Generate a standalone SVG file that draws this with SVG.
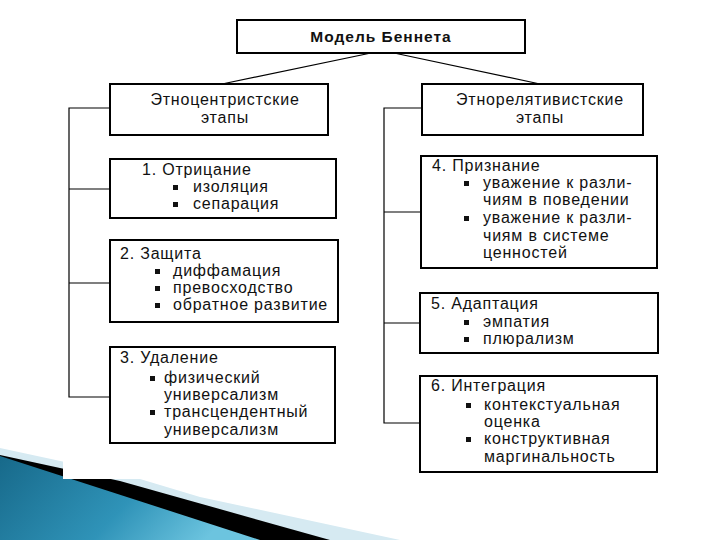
<svg xmlns="http://www.w3.org/2000/svg" width="720" height="540" viewBox="0 0 720 540">
<defs>
<linearGradient id="teal" x1="0" y1="0" x2="1" y2="0.3">
<stop offset="0" stop-color="#17698a"/>
<stop offset="0.6" stop-color="#2f93b8"/>
<stop offset="1" stop-color="#6cc4df"/>
</linearGradient>
<style>
.box{fill:#fff;stroke:#000;stroke-width:2}
.con{fill:none;stroke:#000;stroke-width:1.2}
text{font-family:"Liberation Sans",Arial,sans-serif;font-size:16px;letter-spacing:0.8px;fill:#111}
.title{font-weight:bold;font-size:15.5px;letter-spacing:1px}
.c{text-anchor:middle}
.b{fill:#111}
</style>
</defs>
<rect width="720" height="540" fill="#fff"/>
<g id="decoration">
<polygon points="0,448 130,476 200,497 400,540 0,540" fill="#d6eaf2"/>
<polygon points="0,455 120,481 330,540 0,540" fill="#000"/>
<polygon points="0,456 260,540 0,540" fill="url(#teal)"/>
<rect x="63" y="0" width="600" height="479" fill="#fff"/>
</g>
<g id="connectors">
<line class="con" x1="371" y1="53" x2="222" y2="84"/>
<line class="con" x1="394" y1="53" x2="540" y2="84"/>
<polyline class="con" points="110,108 69,108 69,397 110,397"/>
<line class="con" x1="69" y1="189" x2="110" y2="189"/>
<line class="con" x1="69" y1="283" x2="110" y2="283"/>
<polyline class="con" points="422,108 384,108 384,423 420,423"/>
<line class="con" x1="384" y1="212" x2="421" y2="212"/>
<line class="con" x1="384" y1="323" x2="420" y2="323"/>
</g>
<g id="title">
<rect class="box" x="237" y="20" width="288" height="33"/>
<text class="title c" x="381" y="42">Модель Беннета</text>
</g>
<g id="ethnocentric">
<rect class="box" x="110" y="84" width="218" height="51"/>
<text class="c" x="225" y="105">Этноцентристские</text>
<text class="c" x="225" y="123">этапы</text>
</g>
<g id="ethnorelative">
<rect class="box" x="422" y="84" width="221" height="51"/>
<text class="c" x="540" y="105">Этнорелятивистские</text>
<text class="c" x="540" y="123">этапы</text>
</g>
<g id="stage1">
<rect class="box" x="110" y="159" width="226" height="59"/>
<text x="142" y="175">1. Отрицание</text>
<rect class="b" x="173" y="185" width="5" height="5"/>
<text x="193" y="192">изоляция</text>
<rect class="b" x="173" y="202" width="5" height="5"/>
<text x="193" y="209">сепарация</text>
</g>
<g id="stage2">
<rect class="box" x="110" y="240" width="228" height="82"/>
<text x="120" y="259">2. Защита</text>
<rect class="b" x="155" y="269" width="5" height="5"/>
<text x="173" y="276">диффамация</text>
<rect class="b" x="155" y="286" width="5" height="5"/>
<text x="173" y="293">превосходство</text>
<rect class="b" x="155" y="303" width="5" height="5"/>
<text x="173" y="310">обратное развитие</text>
</g>
<g id="stage3">
<rect class="box" x="110" y="347" width="225" height="96"/>
<text x="120" y="363">3. Удаление</text>
<rect class="b" x="150" y="376" width="5" height="5"/>
<text x="164" y="383">физический</text>
<text x="164" y="400">универсализм</text>
<rect class="b" x="150" y="410" width="5" height="5"/>
<text x="164" y="417">трансцендентный</text>
<text x="164" y="435">универсализм</text>
</g>
<g id="stage4">
<rect class="box" x="421" y="156" width="236" height="112"/>
<text x="432" y="171">4. Признание</text>
<rect class="b" x="464" y="181" width="5" height="5"/>
<text x="483" y="188">уважение к разли-</text>
<text x="483" y="205">чиям в поведении</text>
<rect class="b" x="464" y="216" width="5" height="5"/>
<text x="483" y="223">уважение к разли-</text>
<text x="483" y="241">чиям в системе</text>
<text x="483" y="258">ценностей</text>
</g>
<g id="stage5">
<rect class="box" x="420" y="293" width="238" height="60"/>
<text x="431" y="309">5. Адаптация</text>
<rect class="b" x="464" y="320" width="5" height="5"/>
<text x="483" y="327">эмпатия</text>
<rect class="b" x="464" y="337" width="5" height="5"/>
<text x="483" y="344">плюрализм</text>
</g>
<g id="stage6">
<rect class="box" x="420" y="376" width="237" height="96"/>
<text x="431" y="391">6. Интеграция</text>
<rect class="b" x="466" y="403" width="5" height="5"/>
<text x="484" y="410">контекстуальная</text>
<text x="484" y="427">оценка</text>
<rect class="b" x="466" y="437" width="5" height="5"/>
<text x="484" y="444">конструктивная</text>
<text x="484" y="462">маргинальность</text>
</g>
</svg>
